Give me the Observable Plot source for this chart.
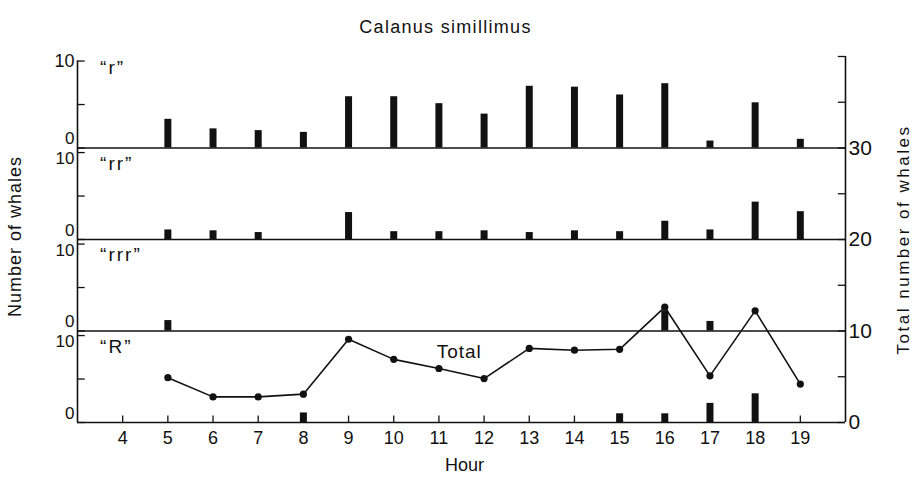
<!DOCTYPE html>
<html><head><meta charset="utf-8">
<script src="https://cdn.jsdelivr.net/npm/d3@7"></script>
<script src="https://cdn.jsdelivr.net/npm/@observablehq/plot@0.6"></script>
<style>body{margin:0;background:#fff}</style>
</head><body><div id="chart"></div>
<script>
// ---- data ----
const hours = [5, 6, 7, 8, 9, 10, 11, 12, 13, 14, 15, 16, 17, 18, 19];
const rVals   = [3.3, 2.2, 2.0, 1.8, 5.9, 5.9, 5.1, 3.9, 7.1, 7.0, 6.1, 7.4, 0.8, 5.2, 1.0];
const rrVals  = [1.1, 1.0, 0.8, 0, 3.1, 0.9, 0.9, 1.0, 0.8, 1.0, 0.9, 2.1, 1.1, 4.3, 3.2];
const rrrVals = [1.2, 0, 0, 0, 0, 0, 0, 0, 0, 0, 0, 2.3, 1.1, 0, 0];
const RVals   = [0, 0, 0, 1.1, 0, 0, 0, 0, 0, 0, 1.0, 1.0, 2.2, 3.3, 0];
const totalVals = [4.9, 2.8, 2.8, 3.1, 9.1, 6.9, 5.9, 4.8, 8.1, 7.9, 8.0, 12.6, 5.1, 12.2, 4.2];
const panelNames = ["\u201Cr\u201D", "\u201Crr\u201D", "\u201Crrr\u201D", "\u201CR\u201D"];
const panelSeries = [rVals, rrVals, rrrVals, RVals];
const panelOffsets = [30, 20, 10, 0];          // panel baselines on the "Total" scale
const hourTicks = [4, 5, 6, 7, 8, 9, 10, 11, 12, 13, 14, 15, 16, 17, 18, 19];
const leftTicks = [0, 5, 10];
const leftTickLabels = ["0", "", "10"];
const rightTicks = [0, 5, 10, 15, 20, 25, 30, 35, 40];
const rightTickLabels = [0, 10, 20, 30];
const title = "Calanus simillimus";
const xTitle = "Hour";
const yTitleLeft = "Number of whales";
const yTitleRight = "Total number of whales";
const lineLabel = "Total";

// ---- derived tables ----
const K = 0.95; // panel count unit expressed in total-scale units
const bars = panelSeries.flatMap((vals, p) =>
  hours.map((h, i) => ({hour: h, base: panelOffsets[p], v: vals[i]})).filter(d => d.v > 0));
const totals = hours.map((h, i) => ({hour: h, total: totalVals[i]}));
const leftTickRows = panelOffsets.flatMap((off, p) => leftTicks.map((t, j) => ({y: off + K * t, label: leftTickLabels[j], zero: t === 0, top: p === 0})));
const panelLabelRows = panelOffsets.map((off, p) => ({y: off + 8.3 + (p === 0 ? 0.5 : 0), label: panelNames[p]}));

const font = "'Liberation Sans', Arial, sans-serif";
const X0 = 3, X1 = 20;
const ink = "#111";

const chart = Plot.plot({
  width: 917, height: 481,
  marginLeft: 77, marginRight: 72, marginTop: 56, marginBottom: 59,
  x: {domain: [X0, X1], axis: null},
  y: {domain: [0, 40], axis: null},
  style: {fontFamily: font, background: "white", color: ink},
  marks: [
    Plot.ruleY(panelOffsets, {y: d => d, x1: X0, x2: X1, stroke: ink, strokeWidth: 1.6}),
    Plot.ruleX([X0], {y1: 0, y2: 30 + K * 10, stroke: ink, strokeWidth: 1.6}),
    Plot.ruleX([X1], {y1: 0, y2: 40, stroke: ink, strokeWidth: 1.6}),
    Plot.ruleY(leftTickRows, {y: "y", x1: X0, x2: X0 + 0.17, stroke: ink, strokeWidth: 1.3}),
    Plot.ruleY(rightTicks, {y: d => d, x1: X1 - 0.16, x2: X1, stroke: ink, strokeWidth: 1.3}),
    Plot.ruleX(hourTicks, {x: d => d, y1: 0, y2: 0.7, stroke: ink, strokeWidth: 1.3}),
    Plot.ruleX(bars, {x: "hour", y1: "base", y2: d => d.base + K * d.v, stroke: ink, strokeWidth: 7}),
    Plot.line(totals, {x: "hour", y: "total", stroke: ink, strokeWidth: 1.6}),
    Plot.dot(totals, {x: "hour", y: "total", r: 3.6, fill: ink, stroke: "none"}),
    Plot.text([lineLabel], {x: 11.45, y: 7.7, text: d => d, fontSize: 19, fill: ink}),
    Plot.text(panelLabelRows, {x: X0 + 0.5, y: "y", text: "label", textAnchor: "start", fontSize: 19, fill: ink}),
    Plot.text(leftTickRows.filter(d => d.label && !d.zero && d.top), {x: X0, y: "y", text: "label", textAnchor: "end", dx: -3, fontSize: 18, fill: ink}),
    Plot.text(leftTickRows.filter(d => d.label && !d.zero && !d.top), {x: X0, y: "y", text: "label", textAnchor: "end", dx: -3, dy: 6, fontSize: 17, fill: ink}),
    Plot.text(leftTickRows.filter(d => d.zero), {x: X0, y: "y", text: "label", textAnchor: "end", dx: -3, dy: -9, fontSize: 17, fill: ink}),
    Plot.text(rightTickLabels, {x: X1, y: d => d, text: d => String(d), textAnchor: "start", dx: 3, fontSize: 21, fill: ink}),
    Plot.text(hourTicks, {x: d => d, y: 0, text: d => String(d), dy: 16, fontSize: 18, fill: ink}),
    Plot.text([xTitle], {frameAnchor: "bottom", text: d => d, textAnchor: "middle", dy: 48, dx: 3, fontSize: 18, fill: ink}),
    Plot.text([yTitleLeft], {frameAnchor: "left", text: d => d, textAnchor: "middle", rotate: -90, dx: -62, dy: -3, fontSize: 18, fill: ink}),
    Plot.text([yTitleRight], {frameAnchor: "right", text: d => d, textAnchor: "middle", rotate: -90, dx: 58, dy: 0, fontSize: 17, fill: ink}),
    Plot.text([title], {frameAnchor: "top", text: d => d, textAnchor: "middle", dy: -36, dx: -16, fontSize: 18, fill: ink})
  ]
});
const spacing = {[title]: "1.3px", [yTitleRight]: "2.5px", [yTitleLeft]: "1px", [lineLabel]: "1px"};
d3.select(chart).selectAll("text").each(function () {
  const s = spacing[this.textContent];
  if (s) this.style.letterSpacing = s;
});
panelNames.forEach(n => {
  d3.select(chart).selectAll("text").filter(function () { return this.textContent === n; }).style("letter-spacing", "2px");
});
document.getElementById("chart").appendChild(chart);
</script>
</body></html>
